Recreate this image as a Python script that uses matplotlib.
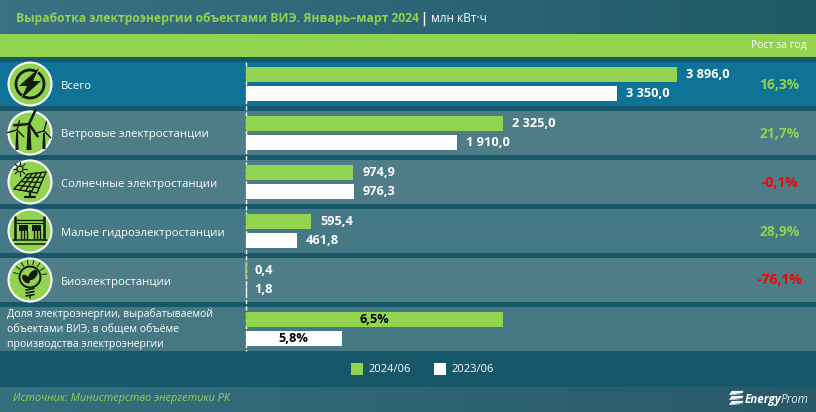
import numpy as np
import matplotlib
matplotlib.use("Agg")
import matplotlib.pyplot as plt
from matplotlib.patches import Circle, Polygon, Rectangle, Ellipse

categories = ["Всего", "Ветровые электростанции", "Солнечные электростанции",
              "Малые гидроэлектростанции", "Биоэлектростанции"]
values_2024 = [3896.0, 2325.0, 974.9, 595.4, 0.4]
values_2023 = [3350.0, 1910.0, 976.3, 461.8, 1.8]
labels_2024 = ["3 896,0", "2 325,0", "974,9", "595,4", "0,4"]
labels_2023 = ["3 350,0", "1 910,0", "976,3", "461,8", "1,8"]
growth = ["16,3%", "21,7%", "-0,1%", "28,9%", "-76,1%"]
share_labels = ["6,5%", "5,8%"]
share_lengths = [2325.0, 871.0]
share_text = ["Доля электроэнергии, вырабатываемой", "объектами ВИЭ, в общем объёме",
              "производства электроэнергии"]
legend_labels = ["2024/06", "2023/06"]
title = "Выработка электроэнергии объектами ВИЭ. Январь–март 2024"
unit = "млн кВт·ч"
source = "Источник: Министерство энергетики РК"

GREEN = "#92d350"
WHITE = "#ffffff"
DARK = "#16586a"
RED = "#ff0000"
FONT = ["Open Sans", "DejaVu Sans"]
plt.rcParams["font.family"] = FONT

fig = plt.figure(figsize=(8.16, 4.12), dpi=100, facecolor=DARK)
bg = fig.add_axes([0, 0, 1, 1])
bg.axis("off")


def hgrad(y0, y1, c0, c1):
    g = np.linspace(0, 1, 256)[None, :, None]
    c0 = np.array(matplotlib.colors.to_rgb(c0))[None, None, :]
    c1 = np.array(matplotlib.colors.to_rgb(c1))[None, None, :]
    bg.imshow(c0 * (1 - g) + c1 * g, extent=(0, 816, y1, y0), aspect="auto", zorder=1)


hgrad(0, 34, "#3a7184", "#1f5a68")
hgrad(387, 412, "#35707f", "#28596a")
bg.set_xlim(0, 816)
bg.set_ylim(412, 0)

bg.add_patch(Rectangle((0, 34), 816, 23, fc=GREEN, ec="none", zorder=2))
row_colors = ["#0e7396", "#4e7c87", "#4e7c87", "#457985", "#4e7d88", "#467884"]
for i, c in enumerate(row_colors):
    bg.add_patch(Rectangle((0, 62 + 49 * i), 816, 44, fc=c, ec="none", zorder=2))

bg.text(16, 18, title, color=GREEN, fontsize=8.78, fontweight="bold", va="center", zorder=5)
bg.plot([423.5, 423.5], [12, 25], color=WHITE, lw=1, zorder=5)
bg.text(431, 18, unit, color=WHITE, fontsize=8.6, va="center", zorder=5)
bg.text(807, 45.5, "Рост за год", color=WHITE, fontsize=7.5, va="center", ha="right", zorder=5)

for i, name in enumerate(categories):
    bg.text(61, 86 + 49 * i, name, color=WHITE, fontsize=8.2, va="center", zorder=5)
    bg.text(779.5, 84.5 + 49 * i, growth[i], color=RED if growth[i].startswith("-") else GREEN,
            fontsize=10, fontweight="bold", va="center", ha="center", zorder=5)
for k, t in enumerate(share_text):
    bg.text(7, 314 + 15 * k, t, color=WHITE, fontsize=7.55, va="center", zorder=5)

bg.add_patch(Rectangle((351, 363), 12, 12, fc=GREEN, ec="none", zorder=5))
bg.text(368, 369, legend_labels[0], color=WHITE, fontsize=8, va="center", zorder=5)
bg.add_patch(Rectangle((434, 363), 12, 12, fc=WHITE, ec="none", zorder=5))
bg.text(451, 369, legend_labels[1], color=WHITE, fontsize=8, va="center", zorder=5)
bg.text(13, 399, source, color=GREEN, fontsize=7.85, style="italic", va="center", zorder=5)

# logo
for dy in [391, 396, 401]:
    bg.add_patch(Polygon([[730.5, dy + 1.6], [731.5, dy], [743.5, dy - 0.2], [742.5, dy + 2.2],
                          [735, dy + 2.6], [742, dy + 3], [729, dy + 4]],
                         closed=True, fc="#eef3f4", ec="none", zorder=5))
bg.text(745, 403, "Energy", color=WHITE, fontsize=8.4, fontweight="bold", style="italic", va="baseline", zorder=5)
bg.text(781, 403, "Prom", color="#dfe8ea", fontsize=8.4, style="italic", va="baseline", zorder=5)

# icons
BLK = "#111a0c"
ICON_Z = 6
for i in range(5):
    cy = 84 + 49 * i
    bg.add_patch(Circle((30, cy), 21.5, fc=GREEN, ec=WHITE, lw=1.5, zorder=ICON_Z))


def poly(pts, cx, cy, **kw):
    p = np.array(pts, float) + [cx, cy]
    kw.setdefault("fc", BLK)
    kw.setdefault("ec", "none")
    bg.add_patch(Polygon(p, closed=True, zorder=ICON_Z + 1, **kw))


def line(xs, ys, cx, cy, lw=1.0):
    bg.plot(np.array(xs, float) + cx, np.array(ys, float) + cy, color=BLK, lw=lw,
            solid_capstyle="round", zorder=ICON_Z + 1)


# bolt
cx, cy = 30, 84
bg.add_patch(Circle((cx, cy), 14, fc="none", ec=BLK, lw=2.0, zorder=ICON_Z + 1))
bg.add_patch(Polygon([[cx + 9, cy - 17], [cx + 12, cy - 17], [cx - 12, cy + 17], [cx - 9, cy + 17]],
                     fc=GREEN, ec="none", zorder=ICON_Z + 1))
poly([[9, -16], [-11, 2], [-3, 2], [-9, 15], [11, -3], [3, -3]], cx, cy)

# wind
cx, cy = 30, 133
for tx, ty, s, bot in [(-1, -9, 1.25, 17), (-13, -3, 0.8, 17), (14, -2, 0.8, 16)]:
    for a in [65, 185, 305]:
        ang = np.radians(a if s > 1 else a + 10)
        ex, ey = 12 * s * np.cos(ang), -12 * s * np.sin(ang)
        line([tx, tx + ex], [ty, ty + ey], cx, cy, lw=1.8 if s > 1 else 1.0)
    poly([[tx - 1.1 * s, ty + 2], [tx + 1.1 * s, ty + 2], [tx + 2 * s, bot], [tx - 2 * s, bot]], cx, cy)

# solar
cx, cy = 30, 182
bg.add_patch(Circle((cx - 10, cy - 13), 3.0, fc="none", ec=BLK, lw=0.9, zorder=ICON_Z + 1))
for a in np.arange(0, 360, 45):
    r = np.radians(a)
    line([-10 + 4 * np.cos(r), -10 + 7 * np.cos(r)], [-13 + 4 * np.sin(r), -13 + 7 * np.sin(r)], cx, cy, lw=0.8)
A = np.array([-16.0, 7.0]); B = np.array([-2.0, -8.0]); C = np.array([16.0, -10.0]); D = np.array([7.0, 11.0])
for t in np.linspace(0, 1, 5):
    p, q = A + (B - A) * t, D + (C - D) * t
    line([p[0], q[0]], [p[1], q[1]], cx, cy, lw=1.0)
    p, q = A + (D - A) * t, B + (C - B) * t
    line([p[0], q[0]], [p[1], q[1]], cx, cy, lw=1.0)
line([-5, 5], [15, 15], cx, cy, lw=1.6)
line([0, 0], [9, 15], cx, cy, lw=1.6)

# hydro
cx, cy = 30, 231
for xs in [-15, 14]:
    line([xs, xs], [-14, 8], cx, cy, lw=1.8)
line([-15, 14], [-11, -11], cx, cy, lw=1.0)
line([-15, 14], [-8, -8], cx, cy, lw=0.8)
for x0 in [-11, 2]:
    bg.add_patch(Rectangle((cx + x0, cy - 6), 9, 6, fc=BLK, ec="none", zorder=ICON_Z + 1))
    for dx in [1.5, 4.5, 7.5]:
        line([x0 + dx, x0 + dx], [0, 8], cx, cy, lw=1.0)
line([-17, 17], [9, 9], cx, cy, lw=1.1)
line([-15, 15], [13, 13], cx, cy, lw=1.1)

# bio
cx, cy = 30, 280
bg.add_patch(Circle((cx, cy - 3), 10.5, fc="none", ec=BLK, lw=1.4, zorder=ICON_Z + 1))
for a in np.arange(195, 350, 22):
    r = np.radians(a)
    line([12.5 * np.cos(r), 17 * np.cos(r)], [-3 + 12.5 * np.sin(r), -3 + 17 * np.sin(r)], cx, cy, lw=0.7)
bg.add_patch(Ellipse((cx + 3, cy - 5), 7, 12, angle=40, fc=BLK, ec="none", zorder=ICON_Z + 1))
bg.add_patch(Ellipse((cx - 4, cy - 1), 6, 10, angle=-40, fc=BLK, ec="none", zorder=ICON_Z + 1))
for yy in [10, 13, 16]:
    line([-4, 4], [yy, yy - 1.5], cx, cy, lw=1.2)
line([0, 0], [16, 18], cx, cy, lw=1.1)

# bars
PX_PER_UNIT = 0.11076
ZERO = 245.5
ax = fig.add_axes([0, 0, 1, 1], facecolor="none")
ax.set_xlim(-ZERO / PX_PER_UNIT, (816 - ZERO) / PX_PER_UNIT)
ax.set_ylim((412 - 84) / 49, -84 / 49)
ax.axis("off")
H = 15 / 49
OFF = 9.5 / 49
pos = np.arange(5)
ax.plot([0, 0], [-22 / 49, 5.45], color=WHITE, lw=1, ls=(0, (3, 1.5)), zorder=2)
ax.barh(pos - OFF, values_2024, height=H, color=GREEN, zorder=3)
ax.barh(pos + OFF, values_2023, height=H, color=WHITE, zorder=3)
# the two near-zero bars keep a visible hairline, as in the reference
ax.barh([4 - OFF], values_2024[4:], height=H, color=GREEN, edgecolor=GREEN, lw=1.2, zorder=3)
ax.barh([4 + OFF], values_2023[4:], height=H, color=WHITE, edgecolor=WHITE, lw=0.8, zorder=3)
ax.barh([5 - OFF], share_lengths[:1], height=H, color=GREEN, zorder=3)
ax.barh([5 + OFF], share_lengths[1:], height=H, color=WHITE, zorder=3)

for i in range(5):
    ax.annotate(labels_2024[i], (values_2024[i], i - OFF), xytext=(6.5, 0), textcoords="offset points",
                color=WHITE, fontsize=9.2, fontweight="bold", va="center", zorder=5)
    ax.annotate(labels_2023[i], (values_2023[i], i + OFF), xytext=(6.5, 0), textcoords="offset points",
                color=WHITE, fontsize=9.2, fontweight="bold", va="center", zorder=5)
ax.text(share_lengths[0] / 2, 5 - OFF, share_labels[0], color="black", fontsize=9.2,
        fontweight="bold", ha="center", va="center", zorder=5)
ax.text(share_lengths[1] / 2, 5 + OFF, share_labels[1], color="black", fontsize=9.2,
        fontweight="bold", ha="center", va="center", zorder=5)

fig.savefig("out.png", dpi=100, facecolor=DARK)
